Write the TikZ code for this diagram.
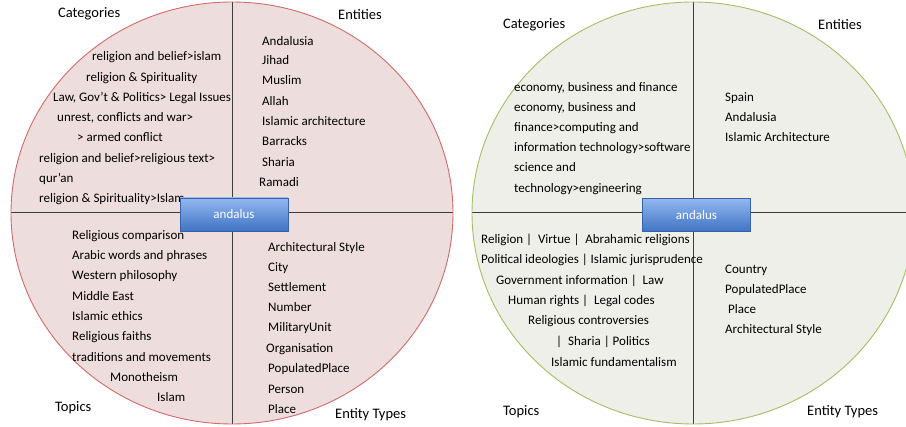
\documentclass[tikz,border=0pt]{standalone}
\usepackage{fontspec}
\setmainfont{Carlito}

\definecolor{leftfill}{HTML}{EEDDDD}
\definecolor{leftrim}{HTML}{D26A68}
\definecolor{rightfill}{HTML}{EDEFE8}
\definecolor{rightrim}{HTML}{A2C062}
\definecolor{quadgray}{HTML}{3C3C3C}
\definecolor{keytop}{HTML}{93B7F0}
\definecolor{keybottom}{HTML}{3F74C4}

\tikzset{
	item/.style={anchor=base west, inner sep=0pt, text=black, font=\fontsize{13}{15}\selectfont},
	head/.style={anchor=base west, inner sep=0pt, text=black, font=\fontsize{14.5}{17}\selectfont},
	keybox/.style={draw=keybottom!85!black, top color=keytop, bottom color=keybottom, minimum width=108pt, minimum height=33pt, inner sep=0pt, text=white, font=\fontsize{13}{15}\selectfont},
	quadline/.style={draw=quadgray, line width=1pt}
}

\begin{document}
\begin{tikzpicture}[x=1pt, y=-1pt]
			\useasboundingbox (0,0) rectangle (906,427);
			\clip (0,0) rectangle (906,427);

			% left wheel
			\coordinate(LC) at (232,213);
			\coordinate(LT) at (232,2);
			\coordinate(LB) at (232,424);
			\coordinate(LL) at (11,213);
			\coordinate(LR) at (453,213);
			\fill[leftfill] (LC) ellipse [x radius=221pt, y radius=211pt];
			\draw[quadline] (LT)--(LB);
			\draw[quadline] (LL)--(LR);
			\draw[leftrim, line width=0.9pt] (LC) ellipse [x radius=221pt, y radius=211pt];

			\node[head] (lcat) at (58,18) {Categories};
			\node[item] (lc1) at (92,61) {religion and belief>islam};
			\node[item] (lc2) at (86,82) {religion \& Spirituality};
			\node[item] (lc3) at (53,102) {Law, Gov’t \& Politics> Legal Issues};
			\node[item] (lc4) at (57,122) {unrest, conflicts and war>};
			\node[item] (lc5) at (77,142) {> armed conflict};
			\node[item] (lc6) at (39,163) {religion and belief>religious text>};
			\node[item] (lc7) at (39,183) {qur'an};
			\node[item] (lc8) at (39,203) {religion \& Spirituality>Islam};

			\node[head] (lent) at (338,19.5) {Entities};
			\node[item] (le1) at (262,46) {Andalusia};
			\node[item] (le2) at (262,65) {Jihad};
			\node[item] (le3) at (262,85) {Muslim};
			\node[item] (le4) at (262,106) {Allah};
			\node[item] (le5) at (262,126) {Islamic architecture};
			\node[item] (le6) at (262,146) {Barracks};
			\node[item] (le7) at (262,167) {Sharia};
			\node[item] (le8) at (259,187) {Ramadi};

			\node[head] (ltop) at (55,411.5) {Topics};
			\node[item] (lt1) at (72,240) {Religious comparison};
			\node[item] (lt2) at (72,260) {Arabic words and phrases};
			\node[item] (lt3) at (72,280) {Western philosophy};
			\node[item] (lt4) at (72,301) {Middle East};
			\node[item] (lt5) at (72,321) {Islamic ethics};
			\node[item] (lt6) at (72,341) {Religious faiths};
			\node[item] (lt7) at (72,362) {traditions and movements};
			\node[item] (lt8) at (110,382) {Monotheism};
			\node[item] (lt9) at (157,402) {Islam};

			\node[head] (ltyp) at (335,418.5) {Entity Types};
			\node[item] (ly1) at (268,252) {Architectural Style};
			\node[item] (ly2) at (268,272) {City};
			\node[item] (ly3) at (268,292) {Settlement};
			\node[item] (ly4) at (268,312) {Number};
			\node[item] (ly5) at (268,332) {MilitaryUnit};
			\node[item] (ly6) at (266,353) {Organisation};
			\node[item] (ly7) at (268,373) {PopulatedPlace};
			\node[item] (ly8) at (268,394) {Person};
			\node[item] (ly9) at (268,414) {Place};

			\node[keybox] (lkey) at (234,214.5) {andalus};

			% right wheel
			\coordinate(RC) at (693,213);
			\coordinate(RT) at (693,2);
			\coordinate(RB) at (693,424);
			\coordinate(RL) at (472,213);
			\coordinate(RR) at (914,213);
			\fill[rightfill] (RC) ellipse [x radius=221pt, y radius=211pt];
			\draw[quadline] (RT)--(RB);
			\draw[quadline] (RL)--(RR);
			\draw[rightrim, line width=0.9pt] (RC) ellipse [x radius=221pt, y radius=211pt];

			\node[head] (rcat) at (503,28.5) {Categories};
			\node[item] (rc1) at (514,92) {economy, business and finance};
			\node[item] (rc2) at (514,112) {economy, business and};
			\node[item] (rc3) at (514,132) {finance>computing and};
			\node[item] (rc4) at (514,152) {information technology>software};
			\node[item] (rc5) at (514,172) {science and};
			\node[item] (rc6) at (514,193) {technology>engineering};

			\node[head] (rent) at (818,29.5) {Entities};
			\node[item] (re1) at (725,102) {Spain};
			\node[item] (re2) at (725,122) {Andalusia};
			\node[item] (re3) at (725,142) {Islamic Architecture};

			\node[head] (rtop) at (503,415.5) {Topics};
			\node[item] (rt1) at (481,244) {Religion \textbar\ \ Virtue \textbar\ \ Abrahamic religions};
			\node[item] (rt2) at (481,264) {Political ideologies \textbar\ Islamic jurisprudence};
			\node[item] (rt3) at (496,285) {Government information \textbar\ \ Law};
			\node[item] (rt4) at (508,305) {Human rights \textbar\ \ Legal codes};
			\node[item] (rt5) at (528,325) {Religious controversies};
			\node[item] (rt6) at (556,346) {\textbar\ \ Sharia \textbar\ Politics};
			\node[item] (rt7) at (551,367) {Islamic fundamentalism};

			\node[head] (rtyp) at (807,415.5) {Entity Types};
			\node[item] (ry1) at (725,274) {Country};
			\node[item] (ry2) at (725,294) {PopulatedPlace};
			\node[item] (ry3) at (728,314) {Place};
			\node[item] (ry4) at (725,334) {Architectural Style};

			\node[keybox] (rkey) at (696.5,215) {andalus};
		\end{tikzpicture}
\end{document}
